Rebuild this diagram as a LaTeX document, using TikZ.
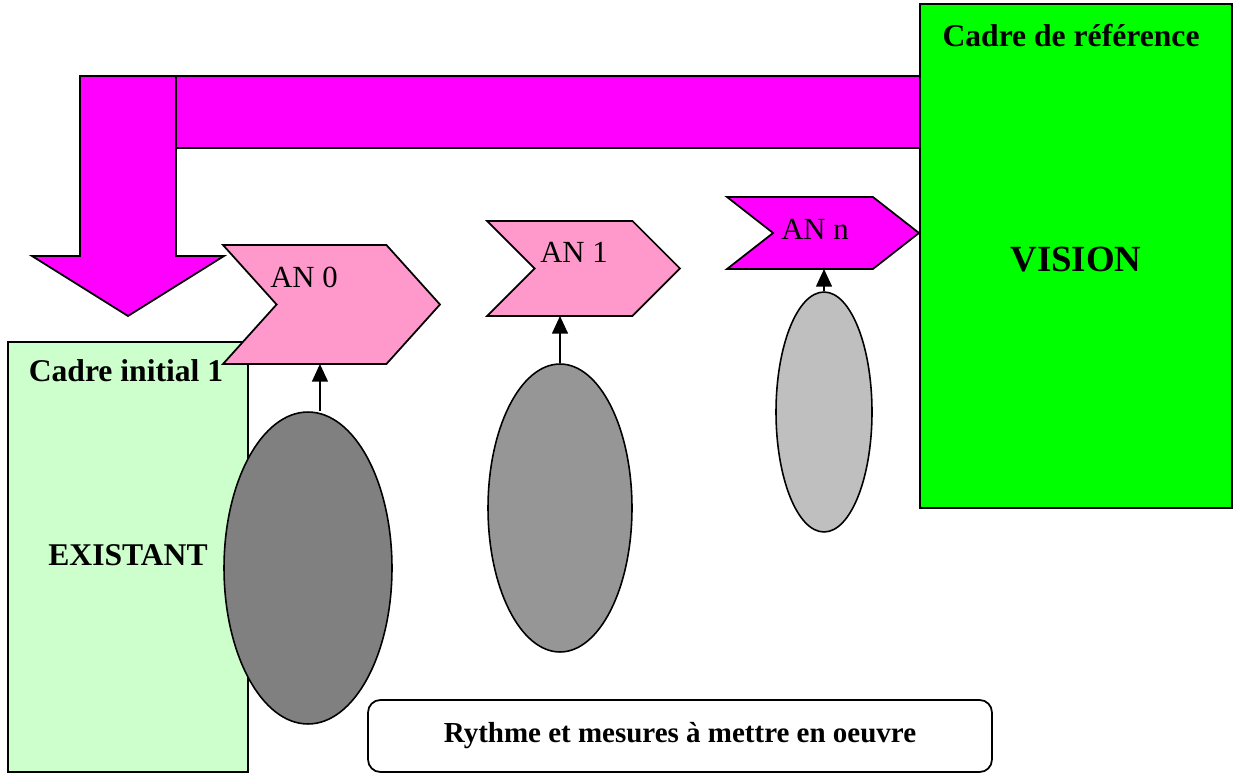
\documentclass[tikz,border=0pt]{standalone}
\usepackage{fontspec}
\setmainfont{Liberation Serif}
\usepackage{xcolor}
\usetikzlibrary{arrows.meta, positioning, shapes.geometric, shapes.symbols}

\definecolor{vgreen}{RGB}{0,255,0}
\definecolor{pgreen}{RGB}{204,255,204}
\definecolor{pinkan}{RGB}{255,153,204}
\definecolor{magan}{RGB}{255,0,255}

\begin{document}
\begin{tikzpicture}[
  x=0.02cm, y=-0.02cm,
  frame/.style={draw, line width=1pt, inner sep=0pt},
  chev/.style={draw, line width=1pt, signal, signal from=west, signal to=east,
               inner sep=0pt, outer sep=0pt},
  oval/.style={draw, line width=0.9pt, ellipse, inner sep=0pt},
  lbl/.style={font=\bfseries\fontsize{18}{21}\selectfont, inner sep=0pt},
  anlbl/.style={font=\fontsize{17.5}{20}\selectfont, inner sep=0pt},
  arr/.style={-{Triangle[length=10pt, width=9pt]}, line width=0.9pt},
  line join=miter
]
  \useasboundingbox (0,0) rectangle (1236,776);

  % big bent arrow from the vision back to the start
  \draw[line width=1pt, fill=magan] (80,76) -- (176,76) -- (176,256) -- (224,256)
    -- (128,316) -- (32,256) -- (80,256) -- cycle;
  \draw[line width=1pt, fill=magan] (176,76) rectangle (925,148);

  % frames
  \node[frame, line width=1.3pt, fill=vgreen, minimum width=6.24cm, minimum height=10.08cm]
    (vision) at (1076,256) {};
  \node[lbl] (vtitle) at (1071,36) {Cadre de référence};
  \node[lbl, font=\bfseries\fontsize{21}{24}\selectfont] (vtext) at (1076,260) {VISION};

  \node[frame, fill=pgreen, minimum width=4.8cm, minimum height=8.6cm]
    (exist) at (128,557) {};
  \node[lbl] (etitle) at (126,371) {Cadre initial 1};
  \node[lbl] (etext) at (128,555) {EXISTANT};

  % yearly steps
  \node[chev, fill=pinkan, minimum width=4.34cm, minimum height=2.38cm,
        signal pointer angle=96] (an0) at (331.5,304.5) {};
  \node[anlbl] (t0) at (304,277) {AN 0};
  \node[chev, fill=pinkan, minimum width=3.86cm, minimum height=1.9cm,
        signal pointer angle=90] (an1) at (583.5,268.5) {};
  \node[anlbl] (t1) at (574,252) {AN 1};
  \node[chev, fill=magan, minimum width=3.84cm, minimum height=1.44cm,
        signal pointer angle=76] (an2) at (823,233) {};
  \node[anlbl] (t2) at (815,229) {AN n};

  % means
  \node[oval, fill=black!50, minimum width=3.36cm, minimum height=6.24cm] (e0) at (308,568) {};
  \node[oval, fill=black!41, minimum width=2.88cm, minimum height=5.76cm] (e1) at (560,508) {};
  \node[oval, fill=black!25, minimum width=1.92cm, minimum height=4.8cm] (e2) at (824,412) {};

  \draw[arr] ([xshift=6.8pt]e0.north) -- ([xshift=6.8pt]e0.north |- an0.south);
  \draw[arr] (e1.north) -- (e1.north |- an1.south);
  \draw[arr] (e2.north) -- (e2.north |- an2.south);

  \node[draw, line width=1pt, rounded corners=7pt, minimum width=12.48cm, minimum height=1.44cm,
        font=\bfseries\fontsize{16.5}{19}\selectfont] (rythme) at (680,736)
    {Rythme et mesures à mettre en oeuvre};
\end{tikzpicture}
\end{document}
